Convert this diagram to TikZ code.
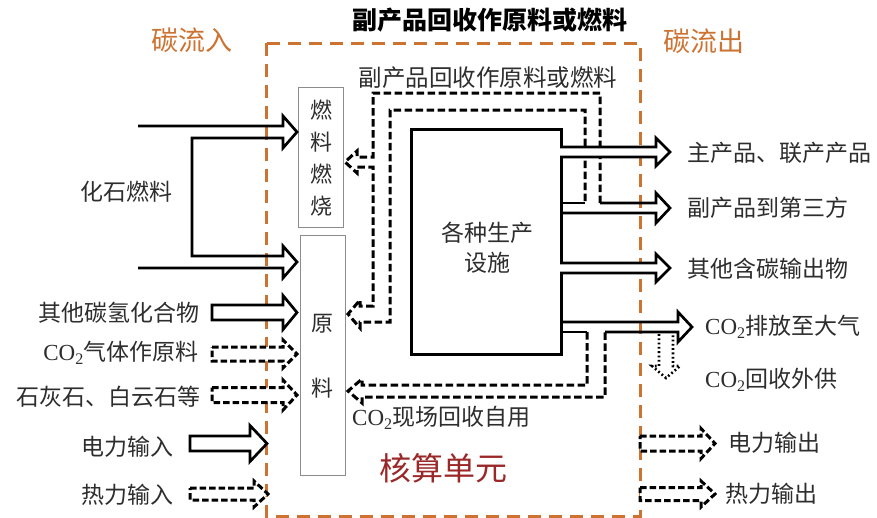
\documentclass[tikz,border=0pt]{standalone}
\usepackage{fontspec}
\setmainfont{Liberation Serif}
\newfontfamily\cjk{Noto Sans CJK SC}
\definecolor{borange}{RGB}{205,115,50}
\definecolor{dred}{RGB}{155,40,40}
\definecolor{txt}{RGB}{45,45,45}
\newcommand{\COtwo}{{\rmfamily CO\textsubscript{2}}}
% hollow right arrow: style, x0, xtip, yc, h, H, hl
\newcommand{\harrowR}[7]{%
  \draw[#1] (#2,#4-#5) -- (#3-#7,#4-#5) -- (#3-#7,#4-#6) -- (#3,#4) -- (#3-#7,#4+#6) -- (#3-#7,#4+#5) -- (#2,#4+#5) -- cycle;}
\newcommand{\harrowRopen}[7]{%
  \draw[#1] (#2,#4-#5) -- (#3-#7,#4-#5) -- (#3-#7,#4-#6) -- (#3,#4) -- (#3-#7,#4+#6) -- (#3-#7,#4+#5) -- (#2,#4+#5);}
\begin{document}
\begin{tikzpicture}[x=1pt,y=-1pt,
  lab/.style={font=\cjk\fontsize{23}{27}\selectfont, text=txt, inner sep=0pt},
  solidarr/.style={draw=black, line width=2.7pt, fill=white, line join=miter, miter limit=4},
  dasharr/.style={draw=black, line width=3pt, dash pattern=on 6.5pt off 3pt, fill=white, line join=miter},
  dashline/.style={draw=black, line width=3pt, dash pattern=on 7.5pt off 3.5pt, line join=miter},
  dotarr/.style={draw=black, line width=2.6pt, dash pattern=on 1.8pt off 2.5pt},
  graybox/.style={draw=black!45, line width=1.4pt, fill=white}]
\useasboundingbox (0,0) rectangle (877,517);
% accounting boundary
\draw[borange, line width=3pt, dash pattern=on 13pt off 8pt] (266,43) rectangle (640,516);
\node[font=\cjk\fontsize{27}{30}\selectfont, text=borange] (cin) at (192,40) {碳流入};
\node[font=\cjk\fontsize{27}{30}\selectfont, text=borange] (cout) at (704,41) {碳流出};
\node[font=\cjk\bfseries\fontsize{25}{28}\selectfont, text=black] (title) at (490,20) {副产品回收作原料或燃料};
\node[font=\cjk\fontsize{32}{36}\selectfont, text=dred] (unit) at (443,468) {核算单元};

% boxes
\node[graybox, minimum width=45pt, minimum height=140pt, anchor=north west, inner sep=0] (fuel) at (298,87) {};
\node[lab, align=center, font=\cjk\fontsize{22}{32}\selectfont] at (fuel.center) {燃\\料\\燃\\烧};
\node[graybox, minimum width=45pt, minimum height=240pt, anchor=north west, inner sep=0] (raw) at (300,235) {};
\node[lab, font=\cjk\fontsize{22}{26}\selectfont] (rawa) at (322,324) {原};
\node[lab, font=\cjk\fontsize{22}{26}\selectfont] (rawb) at (322,388) {料};
\node[draw=black, line width=3.2pt, minimum width=150pt, minimum height=225pt, anchor=north west, inner sep=0] (main) at (410,128) {};
\node[lab, align=center, font=\cjk\fontsize{23}{30}\selectfont] at (487,248) {各种生产\\设施};

% fossil fuel double arrow
\draw[solidarr, fill=none] (138,126) -- (283,126) -- (283,116) -- (297,132) -- (283,148) -- (283,138) -- (192,138)
  -- (192,256) -- (283,256) -- (283,246) -- (297,262) -- (283,278) -- (283,268) -- (138,268);
\node[lab] (fossil) at (126,192) {化石燃料};

% left inputs
\harrowR{solidarr}{212}{297}{312.5}{7.5}{17}{14}
\node[lab, anchor=east] (hc) at (200,313) {其他碳氢化合物};
\harrowR{dasharr}{212}{297}{354}{7}{14}{14}
\node[lab, anchor=east] (co2in) at (199,353) {\COtwo 气体作原料};
\harrowR{dasharr}{212}{297}{395}{7.5}{15}{14}
\node[lab, anchor=east] (lime) at (201,397) {石灰石、白云石等};
\harrowR{solidarr}{190}{267}{443.5}{7.5}{18}{17}
\node[lab] (ein) at (127,447) {电力输入};
\harrowR{dasharr}{190}{268}{494}{6}{13}{14}
\node[lab] (hin) at (127,495) {热力输入};

% by-product recycle (dashed double path)
\node[lab, font=\cjk\fontsize{23.5}{27}\selectfont] (rec) at (488,78) {副产品回收作原料或燃料};
\draw[dashline] (600,203) -- (600,93) -- (373,93) -- (373,157) -- (357,157) -- (357,151) -- (345,162) -- (357,173) -- (357,167) -- (373,167)
  -- (373,306) -- (360,306) -- (360,300) -- (348,314) -- (360,328) -- (360,322) -- (390,322) -- (390,110) -- (585,110) -- (585,203);
\draw[solidarr] (560,203) -- (585,203);

% right outputs
\harrowRopen{solidarr}{560}{670}{152}{5}{14}{14}
\node[lab, anchor=west] (main1) at (687,153) {主产品、联产产品};
\draw[solidarr, fill=none] (600,203) -- (656,203) -- (656,193) -- (670,208) -- (656,223) -- (656,213) -- (560,213);
\node[lab, anchor=west] (third) at (687,208) {副产品到第三方};
\harrowRopen{solidarr}{560}{670}{268}{5}{14}{14}
\node[lab, anchor=west] (other) at (687,269) {其他含碳输出物};

% CO2 emission and recycle
\draw[solidarr, fill=none] (605,332) -- (678,332) -- (678,342) -- (692,327) -- (678,312) -- (678,322) -- (560,322);
\draw[solidarr] (560,332) -- (587,332);
\node[lab, anchor=west] (emit) at (705,327) {\COtwo 排放至大气};
\draw[dashline] (587,332) -- (587,385) -- (362,385) -- (362,379) -- (348,391) -- (362,403) -- (362,397) -- (605,397) -- (605,332);
\node[lab, anchor=west] (selfuse) at (352,418) {\COtwo 现场回收自用};
\draw[dotarr] (659,334) -- (659,366) -- (652,366) -- (666,378) -- (680,366) -- (673,366) -- (673,334);
\node[lab, anchor=west] (supply) at (705,380) {\COtwo 回收外供};

% energy outputs
\harrowR{dasharr}{640}{715}{443.5}{7.5}{15}{14}
\node[lab, anchor=west] (eout) at (728,443) {电力输出};
\harrowR{dasharr}{640}{715}{494}{6.5}{13}{14}
\node[lab, anchor=west] (hout) at (725,494) {热力输出};
\end{tikzpicture}
\end{document}
